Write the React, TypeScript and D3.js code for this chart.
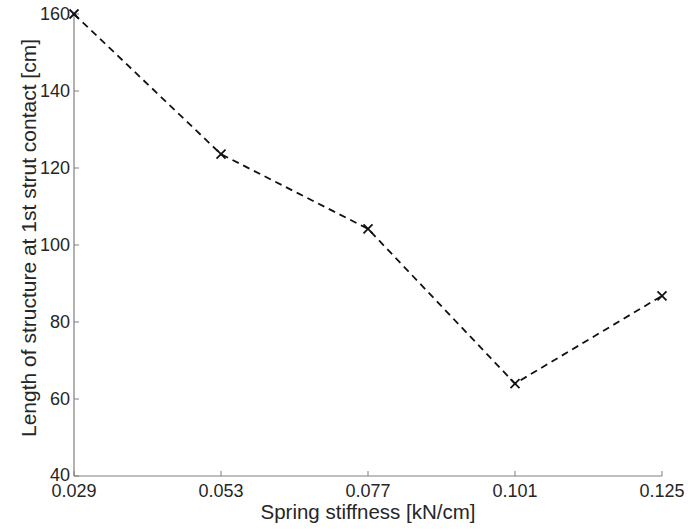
import React from "react";
import * as d3 from "d3";

const stiffness = [0.029, 0.053, 0.077, 0.101, 0.125];
const lengthCm = [160, 123.6, 104.2, 64.0, 86.8];
const xTicks = [0.029, 0.053, 0.077, 0.101, 0.125];
const yTicks = [40, 60, 80, 100, 120, 140, 160];

const W = 688;
const H = 530;
const M = { left: 74, right: 26, top: 14, bottom: 54 };
const FONT = "Liberation Sans, Arial, sans-serif";
const TEXT = "#262626";
const AXIS = "#7f7f7f";

export default function App() {
  const x = d3.scaleLinear().domain([0.029, 0.125]).range([M.left, W - M.right]);
  const y = d3.scaleLinear().domain([40, 160]).range([H - M.bottom, M.top]);
  const line = d3
    .line<number>()
    .x((_, i) => x(stiffness[i]))
    .y((d) => y(d));
  const pts = lengthCm.map((v, i) => [x(stiffness[i]), y(v)]);
  const y0 = y(40);
  const x0 = x(0.029);
  const r = 4.5;
  return (
    <svg
      width={W}
      height={H}
      style={{ position: "absolute", left: 0, top: 0, background: "#fff" }}
      fontFamily={FONT}
    >
      {/* axes */}
      <line x1={x0} x2={x(0.125)} y1={y0} y2={y0} stroke={AXIS} strokeWidth={1.2} />
      <line x1={x0} x2={x0} y1={y0} y2={y(160)} stroke={AXIS} strokeWidth={1.2} />
      {xTicks.map((t) => (
        <g key={"x" + t}>
          <line x1={x(t)} x2={x(t)} y1={y0} y2={y0 - 5} stroke={AXIS} strokeWidth={1} />
          <text x={x(t)} y={y0 + 21} textAnchor="middle" fontSize={18} fill={TEXT}>
            {t.toFixed(3)}
          </text>
        </g>
      ))}
      {yTicks.map((t) => (
        <g key={"y" + t}>
          <line x1={x0} x2={x0 + 5} y1={y(t)} y2={y(t)} stroke={AXIS} strokeWidth={1} />
          <text
            x={x0 - 4}
            y={y(t)}
            dy={t === 40 ? "0.3em" : "0.35em"}
            textAnchor="end"
            fontSize={18}
            fill={TEXT}
          >
            {t}
          </text>
        </g>
      ))}
      {/* data line */}
      <path
        d={line(lengthCm) || ""}
        fill="none"
        stroke="#111"
        strokeWidth={1.8}
        strokeDasharray="7,5"
      />
      {pts.map(([px, py], i) => (
        <g key={"m" + i} stroke="#111" strokeWidth={1.8}>
          <line x1={px - r} y1={py - r} x2={px + r} y2={py + r} />
          <line x1={px - r} y1={py + r} x2={px + r} y2={py - r} />
        </g>
      ))}
      {/* labels */}
      <text x={(x0 + x(0.125)) / 2} y={519} textAnchor="middle" fontSize={20.5} fill={TEXT}>
        Spring stiffness [kN/cm]
      </text>
      <text
        transform={`translate(36, ${(y(40) + y(160)) / 2 - 7}) rotate(-90)`}
        textAnchor="middle"
        fontSize={21}
        fill={TEXT}
      >
        Length of structure at 1st strut contact [cm]
      </text>
    </svg>
  );
}
